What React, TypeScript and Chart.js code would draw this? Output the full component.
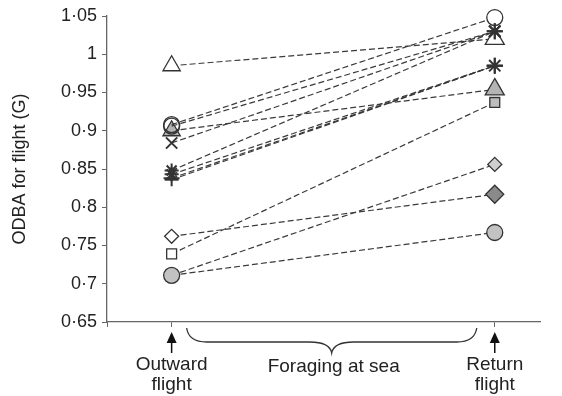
import { useEffect, useRef } from 'react';
import { Chart, registerables } from 'chart.js';

Chart.register(...registerables);

// ---- data ----
const phaseLabels = [['Outward', 'flight'], ['Return', 'flight']];
const phasePositions = [1, 2];
const middleLabel = 'Foraging at sea';
const yAxisTitle = 'ODBA for flight (G)';

const outwardODBA = [0.985, 0.908, 0.9, 0.884, 0.906, 0.848, 0.843, 0.838, 0.836, 0.762, 0.739, 0.711, 0.711];
const returnODBA = [1.02, 1.048, 0.954, 1.03, 1.03, 1.03, 0.985, 0.985, 0.985, 0.817, 0.937, 0.767, 0.856];

const yMin = 0.65;
const yMax = 1.05;
const yStep = 0.05;

// ---- marker styles (outward, return) ----
const OPEN = 'rgba(0,0,0,0)';
const WHITE = '#ffffff';
const outwardMarkers = [
  { s: 'triangle', r: 10, f: WHITE },
  { s: 'circle', r: 8, f: OPEN },
  { s: 'triangle', r: 10, f: '#b4b4b4' },
  { s: 'crossRot', r: 8, f: OPEN },
  { s: 'circle', r: 8, f: OPEN },
  { s: 'star', r: 7, f: OPEN },
  { s: 'star', r: 7, f: OPEN },
  { s: 'cross', r: 8, f: OPEN },
  { s: 'line', r: 7, f: OPEN },
  { s: 'rectRot', r: 7, f: WHITE },
  { s: 'rect', r: 7, f: WHITE },
  { s: 'circle', r: 8, f: '#c2c2c2' },
  { s: 'rectRot', r: 7, f: '#cccccc' },
];
const returnMarkers = [
  { s: 'triangle', r: 11, f: WHITE },
  { s: 'circle', r: 8, f: WHITE },
  { s: 'triangle', r: 11, f: '#b4b4b4' },
  { s: 'crossRot', r: 8, f: OPEN },
  { s: 'star', r: 8, f: OPEN },
  { s: 'star', r: 8, f: OPEN },
  { s: 'star', r: 8, f: OPEN },
  { s: 'cross', r: 8, f: OPEN },
  { s: 'line', r: 8, f: OPEN },
  { s: 'rectRot', r: 9, f: '#8a8a8a' },
  { s: 'rect', r: 7, f: '#bdbdbd' },
  { s: 'circle', r: 8, f: '#c2c2c2' },
  { s: 'rectRot', r: 7, f: '#cfcfcf' },
];

const FONT = "'Liberation Sans', Arial, sans-serif";
const TEXT = '#222';
const AXIS = '#666';
const LINE_STYLES = ['star', 'cross', 'crossRot', 'line'];

const fmt = (v: number) => String(Math.round(v * 100) / 100).replace('.', '\u00b7');

const annotationPlugin = {
  id: 'annotations',
  afterDraw(chart: any) {
    const { ctx, scales } = chart;
    const xs = scales.x;
    const bottom = chart.chartArea.bottom;
    ctx.save();
    ctx.fillStyle = '#111';
    ctx.strokeStyle = '#111';
    // arrows
    phasePositions.forEach((p) => {
      const x = xs.getPixelForValue(p);
      ctx.beginPath();
      ctx.moveTo(x, bottom + 10);
      ctx.lineTo(x - 5, bottom + 21);
      ctx.lineTo(x + 5, bottom + 21);
      ctx.closePath();
      ctx.fill();
      ctx.lineWidth = 1.5;
      ctx.beginPath();
      ctx.moveTo(x, bottom + 20);
      ctx.lineTo(x, bottom + 31);
      ctx.stroke();
    });
    // brace
    const x1 = xs.getPixelForValue(phasePositions[0]) + 15;
    const x2 = xs.getPixelForValue(phasePositions[1]) - 18;
    const xm = (x1 + x2) / 2;
    const yTop = bottom + 6;
    const yMid = bottom + 20;
    const yTip = bottom + 31;
    ctx.strokeStyle = '#333';
    ctx.lineWidth = 1.3;
    ctx.beginPath();
    ctx.moveTo(x1, yTop);
    ctx.quadraticCurveTo(x1 + 2, yMid, x1 + 20, yMid);
    ctx.lineTo(xm - 22, yMid);
    ctx.quadraticCurveTo(xm - 2, yMid, xm, yTip);
    ctx.quadraticCurveTo(xm + 2, yMid, xm + 22, yMid);
    ctx.lineTo(x2 - 20, yMid);
    ctx.quadraticCurveTo(x2 - 2, yMid, x2, yTop);
    ctx.stroke();
    // middle label
    ctx.fillStyle = TEXT;
    ctx.font = `19px ${FONT}`;
    ctx.textAlign = 'center';
    ctx.textBaseline = 'alphabetic';
    ctx.fillText(middleLabel, xm + 2, bottom + 50);
    ctx.restore();
  },
};

export default function App() {
  const ref = useRef<HTMLCanvasElement | null>(null);
  useEffect(() => {
    if (!ref.current) return;
    const datasets = outwardODBA.map((v, i) => {
      const a = outwardMarkers[i];
      const b = returnMarkers[i];
      const isLine = (s: string) => LINE_STYLES.includes(s);
      return {
        label: `Bird ${i + 1}`,
        data: [
          { x: phasePositions[0], y: v },
          { x: phasePositions[1], y: returnODBA[i] },
        ],
        order: isLine(b.s) ? 1 : 2,
        clip: false as any,
        borderColor: '#3a3a3a',
        borderWidth: 1.2,
        borderDash: [6, 3],
        fill: false,
        tension: 0,
        pointStyle: [a.s, b.s],
        pointRadius: [a.r, b.r],
        pointHoverRadius: [a.r, b.r],
        pointBackgroundColor: [a.f, b.f],
        pointBorderColor: ['#333', '#333'],
        pointBorderWidth: [isLine(a.s) ? 2 : 1.3, isLine(b.s) ? 2 : 1.3],
      };
    });
    const chart = new Chart(ref.current, {
      type: 'line',
      data: { datasets },
      options: {
        animation: false,
        responsive: true,
        maintainAspectRatio: false,
        layout: { padding: { top: 16, right: 22, left: 0, bottom: 0 } },
        plugins: { legend: { display: false }, tooltip: { enabled: false } },
        scales: {
          x: {
            type: 'linear',
            min: 0.8,
            max: 2.14,
            afterBuildTicks: (s: any) => {
              s.ticks = [{ value: 0.8 }, ...phasePositions.map((p) => ({ value: p }))];
            },
            afterFit: (s: any) => {
              s.height = 74;
            },
            ticks: {
              autoSkip: false,
              maxRotation: 0,
              padding: 28,
              color: TEXT,
              font: { family: FONT, size: 19, lineHeight: 1.05 },
              callback: (v: any) => {
                const idx = phasePositions.indexOf(Number(v));
                return idx >= 0 ? phaseLabels[idx] : '';
              },
            },
            grid: { drawOnChartArea: false, drawTicks: true, tickLength: 5, color: AXIS },
            border: { display: true, color: AXIS, width: 1.3 },
          },
          y: {
            type: 'linear',
            min: yMin,
            max: yMax,
            afterFit: (s: any) => {
              s.width = 107;
            },
            ticks: {
              stepSize: yStep,
              padding: 5,
              color: TEXT,
              font: { family: FONT, size: 18 },
              callback: (v: any) => fmt(Number(v)),
            },
            title: {
              display: true,
              text: yAxisTitle,
              color: TEXT,
              font: { family: FONT, size: 18 },
              padding: { top: 9, bottom: 0 },
            },
            grid: { drawOnChartArea: false, drawTicks: true, tickLength: 5, color: AXIS },
            border: { display: true, color: AXIS, width: 1.3 },
          },
        },
      },
      plugins: [annotationPlugin],
    });
    return () => chart.destroy();
  }, []);
  return (
    <div style={{ position: 'fixed', left: 0, top: 0, width: 562, height: 396, background: '#fff' }}>
      <canvas ref={ref} />
    </div>
  );
}
